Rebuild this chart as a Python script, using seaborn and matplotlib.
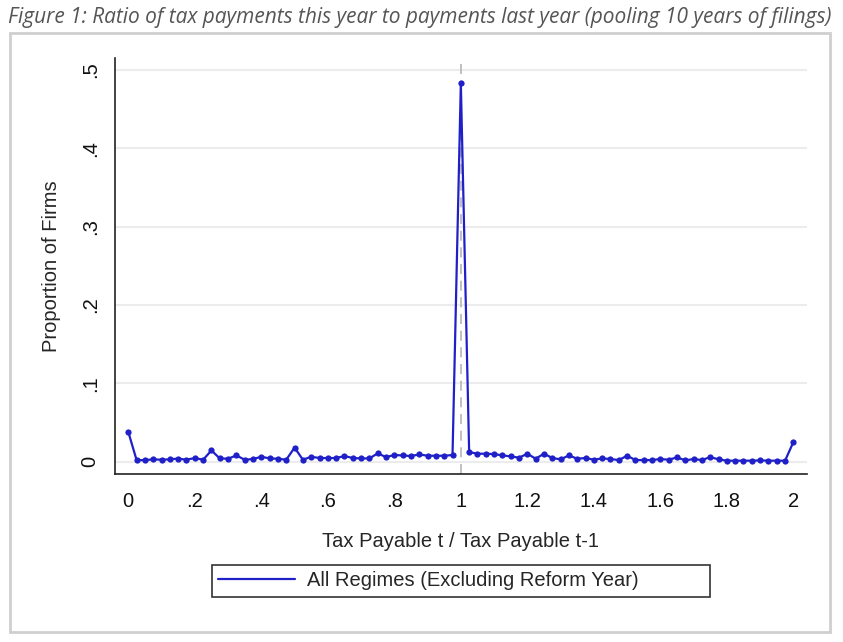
import numpy as np
import pandas as pd
import seaborn as sns
import matplotlib.pyplot as plt
from matplotlib.patches import Rectangle

sns.set_style("white")
plt.rcParams['font.family'] = ['Liberation Sans', 'DejaVu Sans']

# bins of tax payable t / tax payable t-1 (width .025)
ratio = np.round(np.arange(0, 2.0001, 0.025), 3)
share = [
    0.038, 0.002, 0.002, 0.003, 0.0025, 0.003, 0.004, 0.0025, 0.0047, 0.0025,
    0.0144, 0.0042, 0.0038, 0.008, 0.0025, 0.0034, 0.0063, 0.0042, 0.0038, 0.0025,
    0.018, 0.0025, 0.0063, 0.0047, 0.0047, 0.0047, 0.0072, 0.0047, 0.0042, 0.0042,
    0.0106, 0.0059, 0.0085, 0.008, 0.0072, 0.0093, 0.0076, 0.0076, 0.0076, 0.0085,
    0.483,
    0.0123, 0.0102, 0.0102, 0.0097, 0.008, 0.0068, 0.0051, 0.0102, 0.0038, 0.0102,
    0.0047, 0.003, 0.008, 0.0038, 0.0047, 0.0025, 0.0042, 0.0034, 0.0021, 0.0076,
    0.0021, 0.0021, 0.0021, 0.0034, 0.0025, 0.0055, 0.0017, 0.0034, 0.0021, 0.0059,
    0.003, 0.0013, 0.0013, 0.0013, 0.0013, 0.0017, 0.0013, 0.0013, 0.0013, 0.025,
]
series_name = "All Regimes (Excluding Reform Year)"

xticks = np.round(np.arange(0, 2.0001, 0.1), 1)
xtick_labels = ["0", "", ".2", "", ".4", "", ".6", "", ".8", "", "1",
                "", "1.2", "", "1.4", "", "1.6", "", "1.8", "", "2"]
yticks = [0, 0.1, 0.2, 0.3, 0.4, 0.5]
ytick_labels = ["0", ".1", ".2", ".3", ".4", ".5"]

title = "Figure 1: Ratio of tax payments this year to payments last year (pooling 10 years of filings)"

df = pd.DataFrame({"ratio": ratio, "share": share, "series": series_name})

W, H = 843, 642
fs = 14.5
fig = plt.figure(figsize=(W / 100, H / 100), dpi=100)

# page frame + caption
fig.patches.append(Rectangle((10 / W, 1 - 632 / H), 820 / W, 599 / H,
                             transform=fig.transFigure, fill=False,
                             ec="#cfcfcf", lw=2))
fig.text(8 / W, 1 - 17 / H, title, family=["Open Sans", "DejaVu Sans"],
         style="italic", fontsize=15, color="#555555", va="center", ha="left")

ax = fig.add_axes([115 / W, 1 - 474 / H, (807 - 115) / W, (474 - 58) / H])
ax.axvline(1, color="#b5b5b5", lw=1.2, ls=(0, (6, 4)), zorder=1)
sns.lineplot(data=df, x="ratio", y="share", hue="series", palette=["#2020c8"],
             marker="o", markersize=4.5, markeredgewidth=0, lw=1.6, ax=ax,
             zorder=3)

ax.set_xlim(-0.04, 2.041)
ax.set_ylim(-0.0157, 0.5153)
ax.set_xticks(xticks)
ax.set_xticklabels(xtick_labels)
ax.set_yticks(yticks)
ax.set_yticklabels(ytick_labels, rotation=90, va="center")
ax.tick_params(axis="both", length=6, width=1.1, color="#333333",
               labelsize=fs, labelcolor="#111111")
ax.tick_params(axis="x", pad=7)
ax.tick_params(axis="y", pad=5)
ax.grid(axis="y", color="#ececec", lw=1.5)
ax.grid(axis="x", visible=False)
sns.despine(ax=ax)
for s in ["left", "bottom"]:
    ax.spines[s].set_color("#222222")
    ax.spines[s].set_linewidth(1.2)

ax.set_xlabel("Tax Payable t / Tax Payable t-1", fontsize=fs, labelpad=15)
ax.set_ylabel("Proportion of Firms", fontsize=fs, labelpad=14)

handles, labels = ax.get_legend_handles_labels()
ax.get_legend().remove()
leg = fig.legend(handles, labels, loc="center left", mode="expand",
                 bbox_to_anchor=(212 / W, 1 - 600 / H, 498 / W, 38 / H),
                 fontsize=fs, handlelength=3.8, handletextpad=0.6,
                 fancybox=False, edgecolor="#333333", framealpha=1,
                 borderpad=0.3, borderaxespad=0)
leg.get_frame().set_linewidth(1.2)
for line in leg.get_lines():
    line.set_marker("")
    line.set_linewidth(1.6)

fig.savefig("out.png", dpi=100)
